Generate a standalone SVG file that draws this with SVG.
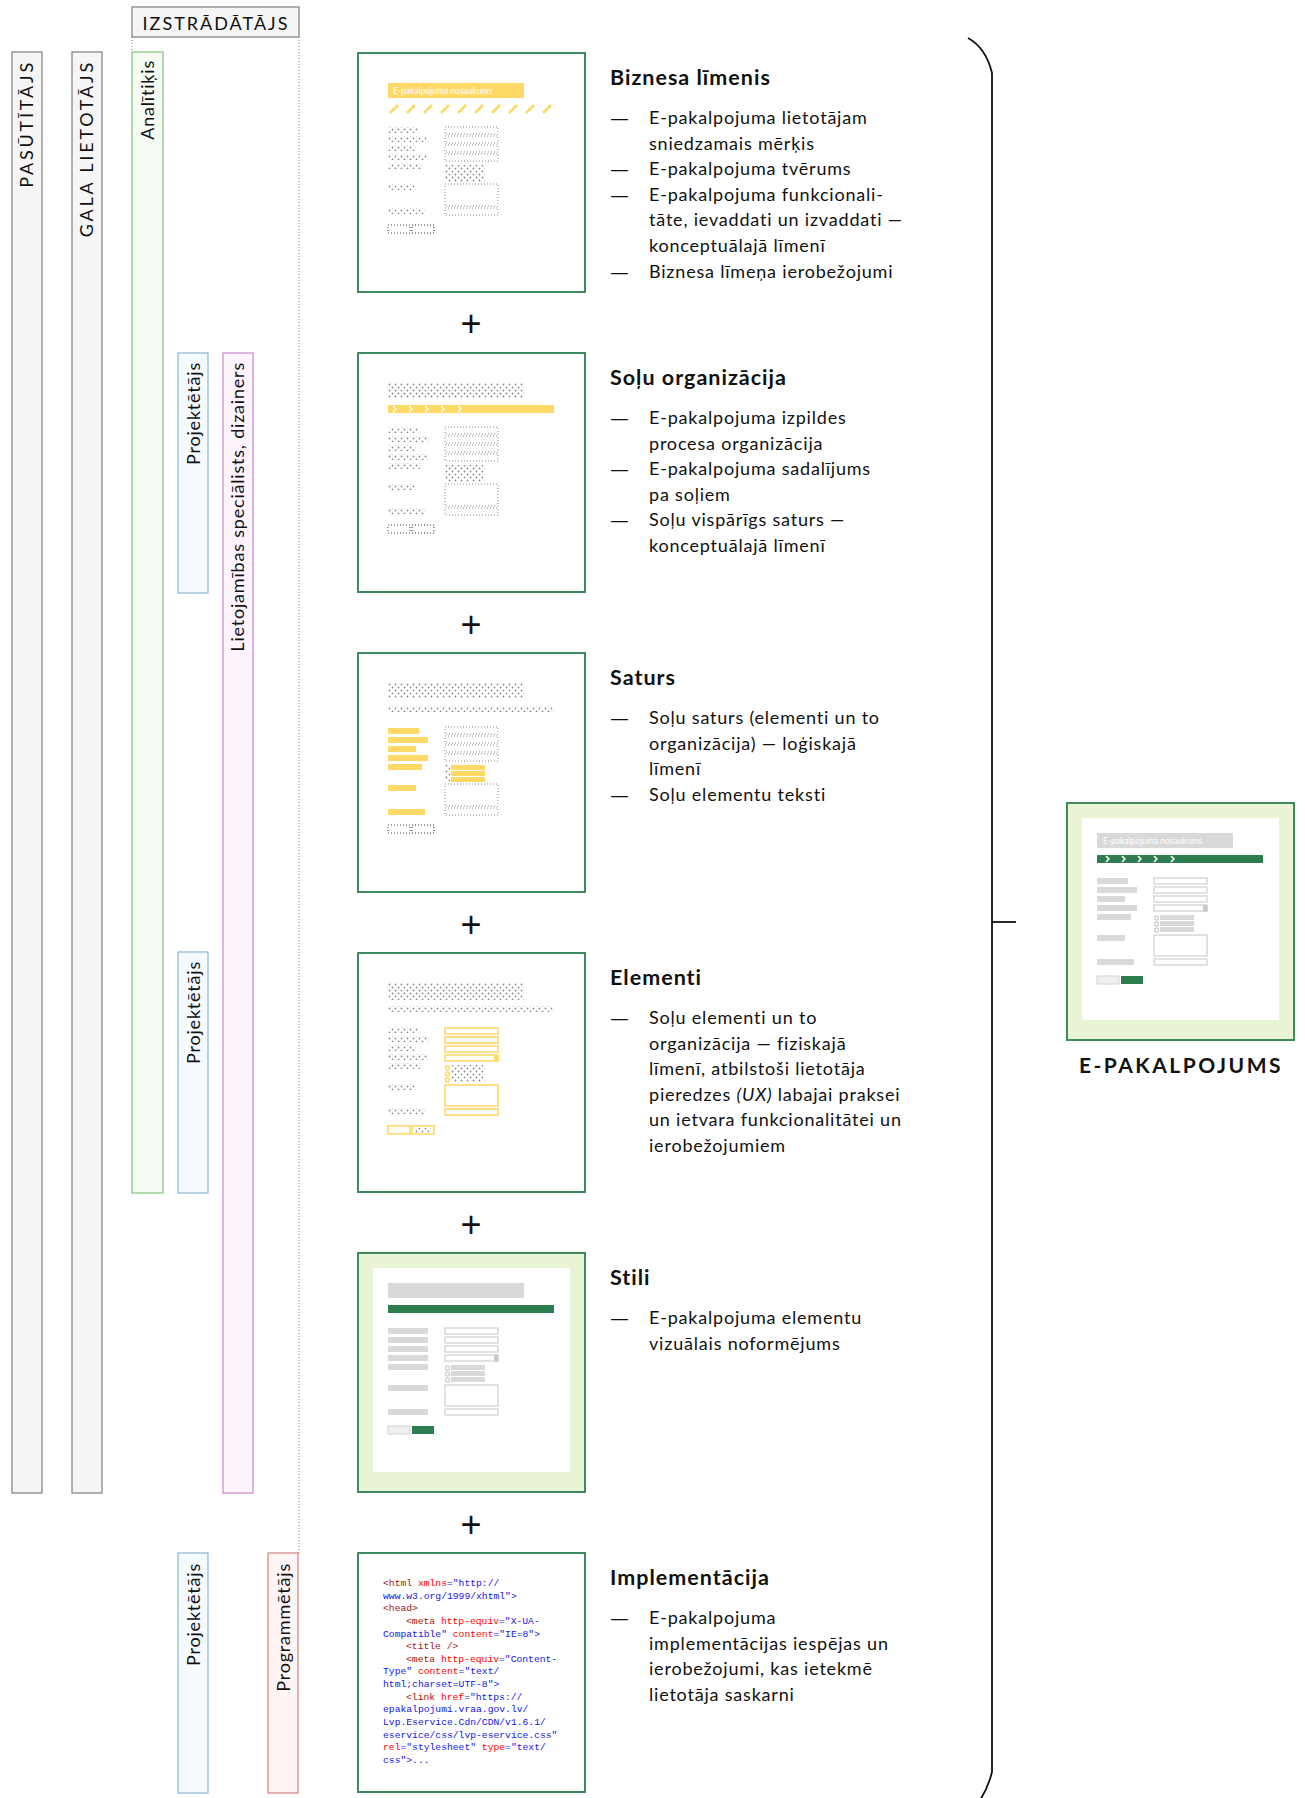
<svg xmlns="http://www.w3.org/2000/svg" width="1305" height="1798" viewBox="0 0 1305 1798">
<style>
.h{font-family:Lato,"Liberation Sans",sans-serif;font-weight:bold;font-size:21.5px;letter-spacing:1px;fill:#111}
.t{font-family:Lato,"Liberation Sans",sans-serif;font-size:18px;letter-spacing:0.8px;fill:#111}
.d{font-family:"Liberation Sans",sans-serif;font-size:17px;fill:#111}
.v{font-family:Lato,"Liberation Sans",sans-serif;font-size:18px;letter-spacing:0.8px;fill:#111}
.vc{font-family:Lato,"Liberation Sans",sans-serif;font-size:18px;letter-spacing:2.8px;fill:#111}
.frame{fill:#fff;stroke:#3f8a5f;stroke-width:2}
.frameG{fill:#e9f4d5;stroke:#3f8a5f;stroke-width:2}
.dotfill{fill:url(#dots)}
.dotline{fill:none;stroke:#8a8a8a;stroke-width:1;stroke-dasharray:1 2}
.ylw{fill:#ffd966}
.ylwS{fill:none;stroke:#ffd966;stroke-width:1.6}
.gbar{fill:#d9d9d9}
.gin{fill:#fff;stroke:#d9d9d9;stroke-width:1.5}
.grn{fill:#2e7d4f}
.code{font-family:"Liberation Mono",monospace;font-size:9.7px}
.tg{fill:#a31515}.at{fill:#ff0000}.vl{fill:#1515e6}
.plus{font-family:"Liberation Sans",sans-serif;font-size:36px;fill:#111;text-anchor:middle}
</style>
<defs>
<pattern id="dots" width="6" height="6" patternUnits="userSpaceOnUse">
<circle cx="1.5" cy="1.5" r="0.9" fill="#8a8a8a"/><circle cx="4.5" cy="4.5" r="0.9" fill="#8a8a8a"/>
</pattern>
<g id="wfLeftDots">
<rect class="dotfill" x="30" y="74" width="31" height="6"/>
<rect class="dotfill" x="30" y="83" width="40" height="6"/>
<rect class="dotfill" x="30" y="92" width="28" height="6"/>
<rect class="dotfill" x="30" y="101" width="40" height="6"/>
<rect class="dotfill" x="30" y="110" width="34" height="6"/>
<rect class="dotfill" x="30" y="131" width="28" height="6"/>
<rect class="dotfill" x="30" y="155" width="37" height="6"/>
</g>
<g id="wfRightDots">
<rect class="dotline" x="87" y="74" width="53" height="7"/>
<rect class="dotline" x="87" y="83" width="53" height="7"/>
<rect class="dotline" x="87" y="92" width="53" height="7"/>
<rect class="dotline" x="87" y="101" width="53" height="7"/>
<rect class="dotfill" x="87" y="112" width="40" height="17"/>
<rect class="dotline" x="87" y="131" width="53" height="22"/>
<rect class="dotline" x="87" y="155" width="53" height="7"/>
</g>
<g id="wfButtons">
<rect class="dotline" x="30" y="172" width="22" height="8" style="stroke:#444"/>
<rect class="dotline" x="54" y="172" width="22" height="8" style="stroke:#222"/>
</g>
</defs>

<!-- role bars -->
<g id="role-izstradatajs">
<rect x="132" y="7" width="167" height="30" fill="#f5f5f5" stroke="#7f7f7f" stroke-width="1.2"/>
<text class="vc" x="216" y="30" text-anchor="middle" style="letter-spacing:2px">IZSTRĀDĀTĀJS</text>
<line x1="132" y1="37" x2="132" y2="52" stroke="#888" stroke-width="1" stroke-dasharray="1 2"/>
<line x1="299" y1="37" x2="299" y2="1553" stroke="#888" stroke-width="1" stroke-dasharray="1 2"/>
</g>
<g id="role-pasutitajs">
<rect x="12" y="52" width="30" height="1441" fill="#f5f5f5" stroke="#7f7f7f" stroke-width="1.2"/>
<text class="vc" transform="translate(33,60) rotate(-90)" text-anchor="end">PASŪTĪTĀJS</text>
</g>
<g id="role-gala-lietotajs">
<rect x="72" y="52" width="30" height="1441" fill="#f5f5f5" stroke="#7f7f7f" stroke-width="1.2"/>
<text class="vc" transform="translate(93,60) rotate(-90)" text-anchor="end">GALA LIETOTĀJS</text>
</g>
<g id="role-analitikis">
<rect x="132" y="52" width="31" height="1141" fill="#f6fbf4" stroke="#7cc576" stroke-width="1.2"/>
<text class="v" transform="translate(154,60) rotate(-90)" text-anchor="end">Analītiķis</text>
</g>
<g id="role-projektetajs-1">
<rect x="178" y="353" width="30" height="240" fill="#f5fafe" stroke="#8db4d3" stroke-width="1.2"/>
<text class="v" transform="translate(200,362) rotate(-90)" text-anchor="end">Projektētājs</text>
</g>
<g id="role-lietojamibas">
<rect x="223" y="353" width="30" height="1140" fill="#fdf4fd" stroke="#cc88cc" stroke-width="1.2"/>
<text class="v" transform="translate(244,362) rotate(-90)" text-anchor="end">Lietojamības speciālists, dizainers</text>
</g>
<g id="role-projektetajs-2">
<rect x="178" y="952" width="30" height="241" fill="#f5fafe" stroke="#8db4d3" stroke-width="1.2"/>
<text class="v" transform="translate(200,961) rotate(-90)" text-anchor="end">Projektētājs</text>
</g>
<g id="role-projektetajs-3">
<rect x="178" y="1553" width="30" height="240" fill="#f5fafe" stroke="#8db4d3" stroke-width="1.2"/>
<text class="v" transform="translate(200,1563) rotate(-90)" text-anchor="end">Projektētājs</text>
</g>
<g id="role-programmetajs">
<rect x="268" y="1553" width="30" height="240" fill="#fff5f5" stroke="#d08080" stroke-width="1.2"/>
<text class="v" transform="translate(290,1563) rotate(-90)" text-anchor="end">Programmētājs</text>
</g>

<!-- frame 1 -->
<g id="frame-biznesa" transform="translate(358,53)">
<rect class="frame" x="0" y="0" width="227" height="239"/>
<rect class="ylw" x="30" y="30" width="136" height="15"/>
<text x="35" y="41" font-family="Lato,'Liberation Sans',sans-serif" font-size="8.5" fill="#fff">E-pakalpojuma nosaukums</text>
<g stroke="#ffd966" stroke-width="2.5">
<line x1="32" y1="60" x2="40" y2="52"/><line x1="49" y1="60" x2="57" y2="52"/><line x1="66" y1="60" x2="74" y2="52"/><line x1="83" y1="60" x2="91" y2="52"/><line x1="100" y1="60" x2="108" y2="52"/><line x1="117" y1="60" x2="125" y2="52"/><line x1="134" y1="60" x2="142" y2="52"/><line x1="151" y1="60" x2="159" y2="52"/><line x1="168" y1="60" x2="176" y2="52"/><line x1="185" y1="60" x2="193" y2="52"/>
</g>
<use href="#wfLeftDots"/><use href="#wfRightDots"/><use href="#wfButtons"/>
</g>

<!-- frame 2 -->
<g id="frame-solu" transform="translate(358,353)">
<rect class="frame" x="0" y="0" width="227" height="239"/>
<rect class="dotfill" x="30" y="30" width="136" height="15"/>
<rect class="ylw" x="30" y="52" width="166" height="8"/>
<g fill="none" stroke="#fff" stroke-width="1.5">
<polyline points="35,53 38,56 35,59"/><polyline points="51,53 54,56 51,59"/><polyline points="67,53 70,56 67,59"/><polyline points="83,53 86,56 83,59"/><polyline points="100,53 103,56 100,59"/>
</g>
<use href="#wfLeftDots"/><use href="#wfRightDots"/><use href="#wfButtons"/>
</g>

<!-- frame 3 -->
<g id="frame-saturs" transform="translate(358,653)">
<rect class="frame" x="0" y="0" width="227" height="239"/>
<rect class="dotfill" x="30" y="30" width="136" height="15"/>
<rect class="dotfill" x="30" y="53" width="166" height="6"/>
<rect class="ylw" x="30" y="75" width="31" height="6"/>
<rect class="ylw" x="30" y="84" width="40" height="6"/>
<rect class="ylw" x="30" y="93" width="28" height="6"/>
<rect class="ylw" x="30" y="102" width="40" height="6"/>
<rect class="ylw" x="30" y="111" width="34" height="6"/>
<rect class="ylw" x="30" y="132" width="28" height="6"/>
<rect class="ylw" x="30" y="156" width="37" height="6"/>
<rect class="dotline" x="87" y="74" width="53" height="7"/>
<rect class="dotline" x="87" y="83" width="53" height="7"/>
<rect class="dotline" x="87" y="92" width="53" height="7"/>
<rect class="dotline" x="87" y="101" width="53" height="7"/>
<rect class="dotfill" x="87" y="112" width="5" height="17"/>
<rect class="ylw" x="93" y="112" width="34" height="5"/>
<rect class="ylw" x="93" y="118" width="34" height="5"/>
<rect class="ylw" x="93" y="124" width="34" height="5"/>
<rect class="dotline" x="87" y="131" width="53" height="22"/>
<rect class="dotline" x="87" y="155" width="53" height="7"/>
<use href="#wfButtons"/>
</g>

<!-- frame 4 -->
<g id="frame-elementi" transform="translate(358,953)">
<rect class="frame" x="0" y="0" width="227" height="239"/>
<rect class="dotfill" x="30" y="30" width="136" height="17"/>
<rect class="dotfill" x="30" y="53" width="166" height="6"/>
<use href="#wfLeftDots"/>
<rect class="ylwS" x="87" y="75" width="53" height="6"/>
<rect class="ylwS" x="87" y="84" width="53" height="6"/>
<rect class="ylwS" x="87" y="93" width="53" height="6"/>
<rect class="ylwS" x="87" y="102" width="53" height="6"/>
<rect class="ylw" x="136" y="102" width="4" height="6"/>
<circle class="ylwS" cx="89.5" cy="115" r="2"/>
<circle class="ylwS" cx="89.5" cy="121" r="2"/>
<circle class="ylwS" cx="89.5" cy="127" r="2"/>
<rect class="dotfill" x="93" y="112" width="34" height="17"/>
<rect class="ylwS" x="87" y="132" width="53" height="21"/>
<rect class="ylwS" x="87" y="156" width="53" height="6"/>
<rect class="ylwS" x="30" y="173" width="22" height="8"/>
<rect class="ylwS" x="54" y="173" width="22" height="8"/>
<rect class="dotfill" x="57" y="175" width="16" height="5"/>
</g>

<!-- frame 5 -->
<g id="frame-stili" transform="translate(358,1253)">
<rect class="frameG" x="0" y="0" width="227" height="239"/>
<rect x="15" y="15" width="197" height="204" fill="#fff"/>
<rect class="gbar" x="30" y="30" width="136" height="15"/>
<rect class="grn" x="30" y="52" width="166" height="8"/>
<rect class="gbar" x="30" y="75" width="40" height="6"/>
<rect class="gbar" x="30" y="84" width="40" height="6"/>
<rect class="gbar" x="30" y="93" width="40" height="6"/>
<rect class="gbar" x="30" y="102" width="40" height="6"/>
<rect class="gbar" x="30" y="111" width="40" height="6"/>
<rect class="gbar" x="30" y="132" width="40" height="6"/>
<rect class="gbar" x="30" y="156" width="40" height="6"/>
<rect class="gin" x="87" y="75" width="53" height="6"/>
<rect class="gin" x="87" y="84" width="53" height="6"/>
<rect class="gin" x="87" y="93" width="53" height="6"/>
<rect class="gin" x="87" y="102" width="53" height="6"/>
<rect x="136" y="102" width="4.5" height="6.5" fill="#c8c8c8"/>
<circle cx="89.5" cy="115" r="2" fill="#fff" stroke="#d0d0d0" stroke-width="1.3"/>
<circle cx="89.5" cy="121" r="2" fill="#fff" stroke="#d0d0d0" stroke-width="1.3"/>
<circle cx="89.5" cy="127" r="2" fill="#fff" stroke="#d0d0d0" stroke-width="1.3"/>
<rect class="gbar" x="93" y="112" width="34" height="5"/>
<rect class="gbar" x="93" y="118" width="34" height="5"/>
<rect class="gbar" x="93" y="124" width="34" height="5"/>
<rect class="gin" x="87" y="132" width="53" height="21"/>
<rect class="gin" x="87" y="156" width="53" height="6"/>
<rect x="30" y="173" width="22" height="8" fill="#f0f0f0" stroke="#d4d4d4" stroke-width="1"/>
<rect class="grn" x="54" y="173" width="22" height="8"/>
</g>

<!-- frame 6 -->
<g id="frame-implementacija">
<rect class="frame" x="358" y="1553" width="227" height="239"/>
<text class="code" x="383" y="1586"><tspan class="tg">&lt;html</tspan><tspan class="at"> xmlns</tspan><tspan class="vl">="http://</tspan></text>
<text class="code vl" x="383" y="1598.6">www.w3.org/1999/xhtml"&gt;</text>
<text class="code tg" x="383" y="1611.3">&lt;head&gt;</text>
<text class="code" x="406" y="1623.9"><tspan class="tg">&lt;meta</tspan><tspan class="at"> http-equiv</tspan><tspan class="vl">="X-UA-</tspan></text>
<text class="code" x="383" y="1636.5"><tspan class="vl">Compatible"</tspan><tspan class="at"> content</tspan><tspan class="vl">="IE=8"&gt;</tspan></text>
<text class="code tg" x="406" y="1649.2">&lt;title /&gt;</text>
<text class="code" x="406" y="1661.8"><tspan class="tg">&lt;meta</tspan><tspan class="at"> http-equiv</tspan><tspan class="vl">="Content-</tspan></text>
<text class="code" x="383" y="1674.4"><tspan class="vl">Type"</tspan><tspan class="at"> content</tspan><tspan class="vl">="text/</tspan></text>
<text class="code vl" x="383" y="1687">html;charset=UTF-8"&gt;</text>
<text class="code" x="406" y="1699.7"><tspan class="tg">&lt;link</tspan><tspan class="at"> href</tspan><tspan class="vl">="https://</tspan></text>
<text class="code vl" x="383" y="1712.3">epakalpojumi.vraa.gov.lv/</text>
<text class="code vl" x="383" y="1724.9">Lvp.Eservice.Cdn/CDN/v1.6.1/</text>
<text class="code vl" x="383" y="1737.6">eservice/css/lvp-eservice.css"</text>
<text class="code" x="383" y="1750.2"><tspan class="at">rel</tspan><tspan class="vl">="stylesheet"</tspan><tspan class="at"> type</tspan><tspan class="vl">="text/</tspan></text>
<text class="code vl" x="383" y="1762.8">css"&gt;...</text>
</g>

<!-- plus signs -->
<g id="plus-signs">
<text class="plus" x="471" y="336">+</text>
<text class="plus" x="471" y="637">+</text>
<text class="plus" x="471" y="937">+</text>
<text class="plus" x="471" y="1237">+</text>
<text class="plus" x="471" y="1537">+</text>
</g>

<!-- descriptions -->
<g id="desc-biznesa">
<text class="h" x="610" y="85">Biznesa līmenis</text>
<text class="d" x="611" y="124">—</text><text class="t" x="649" y="124">E-pakalpojuma lietotājam</text>
<text class="t" x="649" y="149.6">sniedzamais mērķis</text>
<text class="d" x="611" y="175.2">—</text><text class="t" x="649" y="175.2">E-pakalpojuma tvērums</text>
<text class="d" x="611" y="200.8">—</text><text class="t" x="649" y="200.8">E-pakalpojuma funkcionali-</text>
<text class="t" x="649" y="226.4">tāte, ievaddati un izvaddati —</text>
<text class="t" x="649" y="252">konceptuālajā līmenī</text>
<text class="d" x="611" y="277.6">—</text><text class="t" x="649" y="277.6">Biznesa līmeņa ierobežojumi</text>
</g>
<g id="desc-solu">
<text class="h" x="610" y="385">Soļu organizācija</text>
<text class="d" x="611" y="424">—</text><text class="t" x="649" y="424">E-pakalpojuma izpildes</text>
<text class="t" x="649" y="449.6">procesa organizācija</text>
<text class="d" x="611" y="475.2">—</text><text class="t" x="649" y="475.2">E-pakalpojuma sadalījums</text>
<text class="t" x="649" y="500.8">pa soļiem</text>
<text class="d" x="611" y="526.4">—</text><text class="t" x="649" y="526.4">Soļu vispārīgs saturs —</text>
<text class="t" x="649" y="552">konceptuālajā līmenī</text>
</g>
<g id="desc-saturs">
<text class="h" x="610" y="685">Saturs</text>
<text class="d" x="611" y="724">—</text><text class="t" x="649" y="724">Soļu saturs (elementi un to</text>
<text class="t" x="649" y="749.6">organizācija) — loģiskajā</text>
<text class="t" x="649" y="775.2">līmenī</text>
<text class="d" x="611" y="800.8">—</text><text class="t" x="649" y="800.8">Soļu elementu teksti</text>
</g>
<g id="desc-elementi">
<text class="h" x="610" y="985">Elementi</text>
<text class="d" x="611" y="1024">—</text><text class="t" x="649" y="1024">Soļu elementi un to</text>
<text class="t" x="649" y="1049.6">organizācija — fiziskajā</text>
<text class="t" x="649" y="1075.2">līmenī, atbilstoši lietotāja</text>
<text class="t" x="649" y="1100.8">pieredzes <tspan font-style="italic">(UX)</tspan> labajai praksei</text>
<text class="t" x="649" y="1126.4">un ietvara funkcionalitātei un</text>
<text class="t" x="649" y="1152">ierobežojumiem</text>
</g>
<g id="desc-stili">
<text class="h" x="610" y="1285">Stili</text>
<text class="d" x="611" y="1324">—</text><text class="t" x="649" y="1324">E-pakalpojuma elementu</text>
<text class="t" x="649" y="1349.6">vizuālais noformējums</text>
</g>
<g id="desc-implementacija">
<text class="h" x="610" y="1585">Implementācija</text>
<text class="d" x="611" y="1624">—</text><text class="t" x="649" y="1624">E-pakalpojuma</text>
<text class="t" x="649" y="1649.6">implementācijas iespējas un</text>
<text class="t" x="649" y="1675.2">ierobežojumi, kas ietekmē</text>
<text class="t" x="649" y="1700.8">lietotāja saskarni</text>
</g>

<!-- connectors -->
<g id="connectors" fill="none" stroke="#111" stroke-width="1.8">
<path d="M968 38 Q986 48 992 73 L992 1772 Q988 1788 980 1800"/>
<line x1="992" y1="922" x2="1016" y2="922"/>
</g>

<!-- result -->
<g id="e-pakalpojums" transform="translate(1067,803)">
<rect class="frameG" x="0" y="0" width="227" height="237"/>
<rect x="15" y="15" width="197" height="202" fill="#fff"/>
<rect class="gbar" x="30" y="30" width="136" height="15"/>
<text x="36" y="41" font-family="Lato,'Liberation Sans',sans-serif" font-size="8.5" fill="#fff">E-pakalpojuma nosaukums</text>
<rect class="grn" x="30" y="52" width="166" height="8"/>
<g fill="none" stroke="#fff" stroke-width="1.5">
<polyline points="39,53 42,56 39,59"/><polyline points="55,53 58,56 55,59"/><polyline points="71,53 74,56 71,59"/><polyline points="87,53 90,56 87,59"/><polyline points="104,53 107,56 104,59"/>
</g>
<rect class="gbar" x="30" y="75" width="31" height="6"/>
<rect class="gbar" x="30" y="84" width="40" height="6"/>
<rect class="gbar" x="30" y="93" width="28" height="6"/>
<rect class="gbar" x="30" y="102" width="40" height="6"/>
<rect class="gbar" x="30" y="111" width="34" height="6"/>
<rect class="gbar" x="30" y="132" width="28" height="6"/>
<rect class="gbar" x="30" y="156" width="37" height="6"/>
<rect class="gin" x="87" y="75" width="53" height="6"/>
<rect class="gin" x="87" y="84" width="53" height="6"/>
<rect class="gin" x="87" y="93" width="53" height="6"/>
<rect class="gin" x="87" y="102" width="53" height="6"/>
<rect x="136" y="102" width="4.5" height="6.5" fill="#c8c8c8"/>
<circle cx="89.5" cy="115" r="2" fill="#fff" stroke="#d0d0d0" stroke-width="1.3"/>
<circle cx="89.5" cy="121" r="2" fill="#fff" stroke="#d0d0d0" stroke-width="1.3"/>
<circle cx="89.5" cy="127" r="2" fill="#fff" stroke="#d0d0d0" stroke-width="1.3"/>
<rect class="gbar" x="93" y="112" width="34" height="5"/>
<rect class="gbar" x="93" y="118" width="34" height="5"/>
<rect class="gbar" x="93" y="124" width="34" height="5"/>
<rect class="gin" x="87" y="132" width="53" height="21"/>
<rect class="gin" x="87" y="156" width="53" height="6"/>
<rect x="30" y="173" width="22" height="8" fill="#f0f0f0" stroke="#d4d4d4" stroke-width="1"/>
<rect class="grn" x="54" y="173" width="22" height="8"/>
</g>
<g id="e-pakalpojums-label">
<text x="1181" y="1073" text-anchor="middle" font-family="Lato,'Liberation Sans',sans-serif" font-weight="bold" font-size="21" letter-spacing="2.5" fill="#111">E-PAKALPOJUMS</text>
</g>
</svg>
